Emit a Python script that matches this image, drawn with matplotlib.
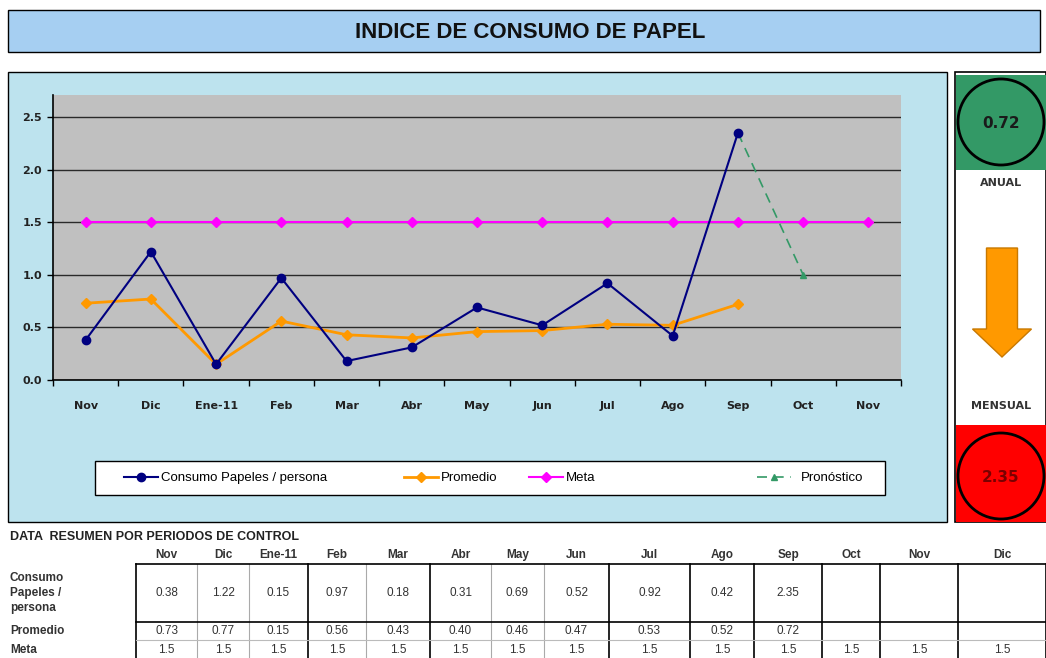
import numpy as np
import matplotlib
matplotlib.use("Agg")
import matplotlib.pyplot as plt
from matplotlib.patches import Rectangle, Circle, FancyArrow

# datos del grafico
meses = ["Nov", "Dic", "Ene-11", "Feb", "Mar", "Abr", "May", "Jun", "Jul", "Ago", "Sep", "Oct", "Nov"]
consumo = [0.38, 1.22, 0.15, 0.97, 0.18, 0.31, 0.69, 0.52, 0.92, 0.42, 2.35]
promedio = [0.73, 0.77, 0.15, 0.56, 0.43, 0.40, 0.46, 0.47, 0.53, 0.52, 0.72]
meta = [1.5] * 13
pronostico = [np.nan] * 10 + [2.35, 1.0]

# datos de la tabla
tabla_meses = ["Nov", "Dic", "Ene-11", "Feb", "Mar", "Abr", "May", "Jun", "Jul", "Ago", "Sep", "Oct", "Nov", "Dic"]
tabla_meta = [1.5] * 14

W, H = 1046, 658
fig = plt.figure(figsize=(W / 100, H / 100), dpi=100)
fig.patch.set_facecolor("white")
arial = "Liberation Sans"


def px_axes(x0, y0, x1, y1):
    return fig.add_axes([x0 / W, 1 - y1 / H, (x1 - x0) / W, (y1 - y0) / H])


# fondo en pixeles
bg = fig.add_axes([0, 0, 1, 1])
bg.set_xlim(0, W)
bg.set_ylim(H, 0)
bg.axis("off")

bg.add_patch(Rectangle((8, 10), 1032, 42, facecolor="#a6cff2", edgecolor="black", lw=1))
bg.text(530, 32, "INDICE DE CONSUMO DE PAPEL", ha="center", va="center",
        fontsize=16, fontweight="bold", family=arial, color="#111111")

# panel del grafico
bg.add_patch(Rectangle((8, 72), 939, 450, facecolor="#bde3ee", edgecolor="black", lw=1))
# marco de la leyenda
bg.add_patch(Rectangle((95, 461), 790, 34, facecolor="white", edgecolor="black", lw=1))

# panel derecho
bg.add_patch(Rectangle((955, 72), 91, 450, facecolor="white", edgecolor="black", lw=1.2))
bg.add_patch(Rectangle((956, 75), 90, 95, facecolor="#339966", edgecolor="none"))
bg.add_patch(Circle((1001, 122), 43, facecolor="#339966", edgecolor="black", lw=2))
bg.text(1001, 123, f"{promedio[-1]:.2f}", ha="center", va="center", fontsize=11,
        fontweight="bold", color="#1a1a1a")
bg.text(1001, 183, "ANUAL", ha="center", va="center", fontsize=8, fontweight="bold", color="#333333")
bg.add_patch(FancyArrow(1002, 248, 0, 109, width=31, head_width=59, head_length=28,
                        length_includes_head=True, facecolor="#ff9900", edgecolor="#c87800", lw=1))
bg.text(1001, 406, "MENSUAL", ha="center", va="center", fontsize=8, fontweight="bold", color="#333333")
bg.add_patch(Rectangle((956, 425), 90, 97, facecolor="#ff0000", edgecolor="none"))
bg.add_patch(Circle((1001, 476), 43, facecolor="#ff0000", edgecolor="black", lw=2))
bg.text(1001, 477, f"{consumo[-1]:.2f}", ha="center", va="center", fontsize=11,
        fontweight="bold", color="#7a0000")

# grafico
ax = px_axes(53, 95, 901, 380)
ax.set_facecolor("#c0c0c0")
x = np.arange(len(meses))
l1, = ax.plot(x[:len(consumo)], consumo, color="#000080", marker="o", ms=6, lw=1.5, zorder=4,
              label="Consumo Papeles / persona")
l2, = ax.plot(x[:len(promedio)], promedio, color="#ff9900", marker="D", ms=5, lw=2, zorder=3,
              label="Promedio")
l3, = ax.plot(x, meta, color="#ff00ff", marker="D", ms=5, lw=1.5, zorder=3, label="Meta")
l4, = ax.plot(x[:len(pronostico)], pronostico, color="#339966", marker="^", ms=5, lw=1.2,
              ls=(0, (6, 4)), zorder=3, label="Pronóstico")
ax.set_xlim(-0.5, len(meses) - 0.5)
ax.set_ylim(0, 2.71)
ax.set_yticks([0, 0.5, 1.0, 1.5, 2.0, 2.5])
ax.set_yticklabels([f"{v:.1f}" for v in [0, 0.5, 1.0, 1.5, 2.0, 2.5]])
ax.set_xticks(x)
ax.set_xticklabels(meses)
ax.set_xticks(np.arange(len(meses) + 1) - 0.5, minor=True)
ax.tick_params(axis="x", which="major", length=0, pad=15, labelsize=8)
ax.tick_params(axis="x", which="minor", length=4, width=1, direction="out")
ax.tick_params(axis="y", length=4, width=1, labelsize=8, pad=4)
for lab in ax.get_xticklabels() + ax.get_yticklabels():
    lab.set_fontweight("bold")
    lab.set_color("#222222")
ax.grid(axis="y", color="#2a2a2a", lw=1)
ax.set_axisbelow(True)
for s in ["top", "right"]:
    ax.spines[s].set_visible(False)
ax.spines["left"].set_linewidth(1.2)
ax.spines["bottom"].set_linewidth(1.2)

# leyenda: una entrada por posicion, como en Excel
for h, xl, pad in zip([l1, l2, l3, l4], [112, 392, 517, 745], [0.2, 0.2, 0.2, 0.7]):
    fig.legend(handles=[h], loc="center left", bbox_to_anchor=(xl / W, 1 - 478 / H),
               frameon=False, handlelength=2.6, handletextpad=pad,
               prop={"family": arial, "size": 9.5})

# tabla resumen
bg.text(10, 537, "DATA  RESUMEN POR PERIODOS DE CONTROL", ha="left", va="center",
        fontsize=9, fontweight="bold", family=arial, color="#222222")
bordes = [136, 197, 249, 308, 366, 430, 491, 544, 609, 690, 754, 822, 880, 958, 1046]
claros = {197, 249, 366, 491, 544}
for xb in bordes:
    bg.plot([xb, xb], [564, 658], color="#aaaaaa" if xb in claros else "black",
            lw=0.8 if xb in claros else 1.2)
bg.plot([136, 1046], [564, 564], color="black", lw=1.2)
bg.plot([136, 1046], [622, 622], color="black", lw=1.2)
bg.plot([136, 1046], [640, 640], color="#bbbbbb", lw=0.8)
centros = [(a + b) / 2 for a, b in zip(bordes[:-1], bordes[1:])]
for cx, m in zip(centros, tabla_meses):
    bg.text(cx, 555, m, ha="center", va="center", fontsize=8.5, fontweight="bold",
            family=arial, color="#333333")
for cx, v in zip(centros, consumo):
    bg.text(cx, 593, f"{v:.2f}", ha="center", va="center", fontsize=8.5, family=arial, color="#333333")
for cx, v in zip(centros, promedio):
    bg.text(cx, 631, f"{v:.2f}", ha="center", va="center", fontsize=8.5, family=arial, color="#333333")
for cx, v in zip(centros, tabla_meta):
    bg.text(cx, 650, f"{v:g}", ha="center", va="center", fontsize=8.5, family=arial, color="#333333")
bg.text(10, 593, "Consumo\nPapeles /\npersona", ha="left", va="center", fontsize=8.5,
        fontweight="bold", family=arial, color="#333333", linespacing=1.3)
bg.text(10, 631, "Promedio", ha="left", va="center", fontsize=8.5, fontweight="bold",
        family=arial, color="#333333")
bg.text(10, 650, "Meta", ha="left", va="center", fontsize=8.5, fontweight="bold",
        family=arial, color="#333333")

fig.savefig("out.png", dpi=100)
